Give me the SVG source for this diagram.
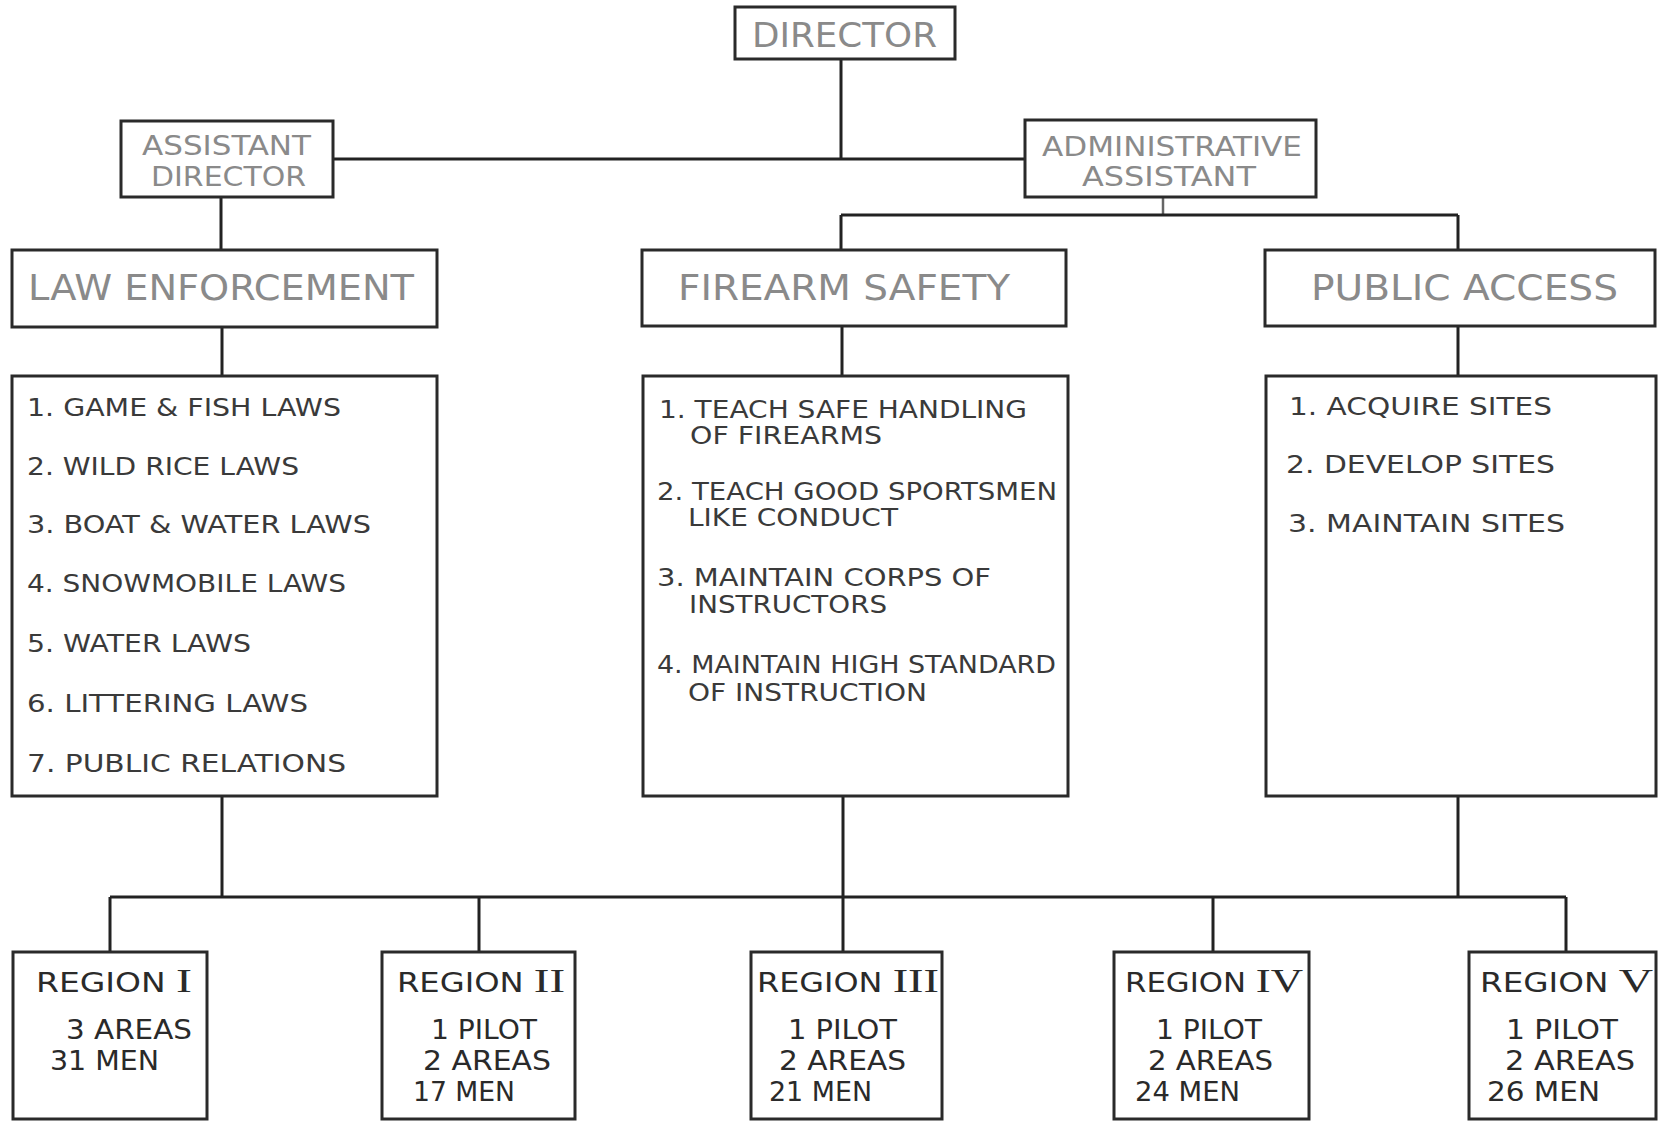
<svg xmlns="http://www.w3.org/2000/svg" width="1658" height="1121" viewBox="0 0 1658 1121">
<style>
.box{fill:#fff;stroke:#2a2a2a;stroke-width:3}
.con{fill:none;stroke:#222;stroke-width:3}
.faint{fill:none;stroke:#666;stroke-width:2.5}
.hd{font-family:"DejaVu Sans Condensed","DejaVu Sans",sans-serif;fill:#8a8a8a}
.ls{font-family:"DejaVu Sans","Liberation Sans",sans-serif;fill:#3a3a3a;font-size:24px}
.rg{font-family:"DejaVu Sans Condensed","DejaVu Sans",sans-serif;fill:#2a2a2a;font-size:26px}
.rn{font-family:"Liberation Serif",serif;font-size:34px}
</style>
<rect width="1658" height="1121" fill="#fff"/>
<g id="connectors">
<path class="con" d="M841 59V159M333 159H1025M221 197V250"/>
<path class="faint" d="M1163 197V215"/>
<path class="con" d="M841 215H1458M841 215V250M1458 215V250"/>
<path class="con" d="M222 327V376M842 326V376M1458 326V376"/>
<path class="con" d="M222 796V897M843 796V897M1458 796V897M110 897H1566"/>
<path class="con" d="M110 897V952M479 897V952M843 897V952M1213 897V952M1566 897V952"/>
</g>
<g id="director">
<rect class="box" x="735" y="7" width="220" height="52"/>
<text class="hd" x="752" y="47" font-size="34" textLength="185" lengthAdjust="spacingAndGlyphs">DIRECTOR</text>
</g>
<g id="assistant-director">
<rect class="box" x="121" y="121" width="212" height="76"/>
<text class="hd" x="142" y="155" font-size="26" textLength="169" lengthAdjust="spacingAndGlyphs">ASSISTANT</text>
<text class="hd" x="151" y="186" font-size="26" textLength="155" lengthAdjust="spacingAndGlyphs">DIRECTOR</text>
</g>
<g id="administrative-assistant">
<rect class="box" x="1025" y="120" width="291" height="77"/>
<text class="hd" x="1042" y="156" font-size="26" textLength="260" lengthAdjust="spacingAndGlyphs">ADMINISTRATIVE</text>
<text class="hd" x="1082" y="186" font-size="26" textLength="174" lengthAdjust="spacingAndGlyphs">ASSISTANT</text>
</g>
<g id="law-enforcement">
<rect class="box" x="12" y="250" width="425" height="77"/>
<text class="hd" x="28" y="300" font-size="36" textLength="386" lengthAdjust="spacingAndGlyphs">LAW  ENFORCEMENT</text>
</g>
<g id="firearm-safety">
<rect class="box" x="642" y="250" width="424" height="76"/>
<text class="hd" x="678" y="300" font-size="36" textLength="332" lengthAdjust="spacingAndGlyphs">FIREARM  SAFETY</text>
</g>
<g id="public-access">
<rect class="box" x="1265" y="250" width="390" height="76"/>
<text class="hd" x="1311" y="300" font-size="36" textLength="307" lengthAdjust="spacingAndGlyphs">PUBLIC  ACCESS</text>
</g>
<g id="law-enforcement-duties">
<rect class="box" x="12" y="376" width="425" height="420"/>
<text class="ls" x="27" y="416" textLength="314" lengthAdjust="spacingAndGlyphs">1. GAME &amp; FISH  LAWS</text>
<text class="ls" x="27" y="475" textLength="272" lengthAdjust="spacingAndGlyphs">2. WILD RICE  LAWS</text>
<text class="ls" x="27" y="533" textLength="344" lengthAdjust="spacingAndGlyphs">3. BOAT &amp; WATER  LAWS</text>
<text class="ls" x="27" y="592" textLength="319" lengthAdjust="spacingAndGlyphs">4. SNOWMOBILE  LAWS</text>
<text class="ls" x="27" y="652" textLength="224" lengthAdjust="spacingAndGlyphs">5. WATER  LAWS</text>
<text class="ls" x="27" y="712" textLength="281" lengthAdjust="spacingAndGlyphs">6. LITTERING  LAWS</text>
<text class="ls" x="27" y="772" textLength="319" lengthAdjust="spacingAndGlyphs">7. PUBLIC  RELATIONS</text>
</g>
<g id="firearm-safety-duties">
<rect class="box" x="643" y="376" width="425" height="420"/>
<text class="ls" x="659" y="418" textLength="368" lengthAdjust="spacingAndGlyphs">1. TEACH  SAFE  HANDLING</text>
<text class="ls" x="690" y="444" textLength="192" lengthAdjust="spacingAndGlyphs">OF FIREARMS</text>
<text class="ls" x="657" y="500" textLength="400" lengthAdjust="spacingAndGlyphs">2. TEACH  GOOD  SPORTSMEN</text>
<text class="ls" x="688" y="526" textLength="210" lengthAdjust="spacingAndGlyphs">LIKE  CONDUCT</text>
<text class="ls" x="657" y="586" textLength="334" lengthAdjust="spacingAndGlyphs">3. MAINTAIN  CORPS  OF</text>
<text class="ls" x="689" y="613" textLength="198" lengthAdjust="spacingAndGlyphs">INSTRUCTORS</text>
<text class="ls" x="657" y="673" textLength="399" lengthAdjust="spacingAndGlyphs">4. MAINTAIN HIGH STANDARD</text>
<text class="ls" x="688" y="701" textLength="239" lengthAdjust="spacingAndGlyphs">OF  INSTRUCTION</text>
</g>
<g id="public-access-duties">
<rect class="box" x="1266" y="376" width="390" height="420"/>
<text class="ls" x="1289" y="415" textLength="263" lengthAdjust="spacingAndGlyphs">1. ACQUIRE   SITES</text>
<text class="ls" x="1286" y="473" textLength="269" lengthAdjust="spacingAndGlyphs">2. DEVELOP   SITES</text>
<text class="ls" x="1288" y="532" textLength="277" lengthAdjust="spacingAndGlyphs">3. MAINTAIN   SITES</text>
</g>
<g id="region-1">
<rect class="box" x="13" y="952" width="194" height="167"/>
<text class="rg" x="36" y="992" font-size="30" textLength="156" lengthAdjust="spacingAndGlyphs">REGION  <tspan class="rn">I</tspan></text>
<text class="rg" x="66" y="1039" textLength="126" lengthAdjust="spacingAndGlyphs">3 AREAS</text>
<text class="rg" x="50" y="1070" textLength="109" lengthAdjust="spacingAndGlyphs">31  MEN</text>
</g>
<g id="region-2">
<rect class="box" x="382" y="952" width="193" height="167"/>
<text class="rg" x="397" y="992" font-size="30" textLength="168" lengthAdjust="spacingAndGlyphs">REGION  <tspan class="rn">II</tspan></text>
<text class="rg" x="431" y="1039" textLength="106" lengthAdjust="spacingAndGlyphs">1 PILOT</text>
<text class="rg" x="423" y="1070" textLength="128" lengthAdjust="spacingAndGlyphs">2 AREAS</text>
<text class="rg" x="413" y="1101" textLength="102" lengthAdjust="spacingAndGlyphs">17 MEN</text>
</g>
<g id="region-3">
<rect class="box" x="751" y="952" width="191" height="167"/>
<text class="rg" x="757" y="992" font-size="30" textLength="182" lengthAdjust="spacingAndGlyphs">REGION  <tspan class="rn">III</tspan></text>
<text class="rg" x="788" y="1039" textLength="109" lengthAdjust="spacingAndGlyphs">1 PILOT</text>
<text class="rg" x="779" y="1070" textLength="127" lengthAdjust="spacingAndGlyphs">2 AREAS</text>
<text class="rg" x="769" y="1101" textLength="103" lengthAdjust="spacingAndGlyphs">21 MEN</text>
</g>
<g id="region-4">
<rect class="box" x="1114" y="952" width="195" height="167"/>
<text class="rg" x="1125" y="992" font-size="30" textLength="178" lengthAdjust="spacingAndGlyphs">REGION  <tspan class="rn">IV</tspan></text>
<text class="rg" x="1156" y="1039" textLength="106" lengthAdjust="spacingAndGlyphs">1 PILOT</text>
<text class="rg" x="1148" y="1070" textLength="125" lengthAdjust="spacingAndGlyphs">2 AREAS</text>
<text class="rg" x="1135" y="1101" textLength="105" lengthAdjust="spacingAndGlyphs">24 MEN</text>
</g>
<g id="region-5">
<rect class="box" x="1469" y="952" width="187" height="167"/>
<text class="rg" x="1480" y="992" font-size="30" textLength="173" lengthAdjust="spacingAndGlyphs">REGION  <tspan class="rn">V</tspan></text>
<text class="rg" x="1506" y="1039" textLength="112" lengthAdjust="spacingAndGlyphs">1  PILOT</text>
<text class="rg" x="1505" y="1070" textLength="130" lengthAdjust="spacingAndGlyphs">2 AREAS</text>
<text class="rg" x="1487" y="1101" textLength="113" lengthAdjust="spacingAndGlyphs">26 MEN</text>
</g>
</svg>
